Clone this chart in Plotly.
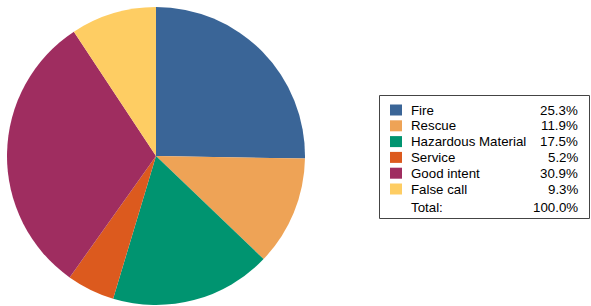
import plotly.graph_objects as go

categories = ["Fire", "Rescue", "Hazardous Material", "Service", "Good intent", "False call"]
values = [25.3, 11.9, 17.5, 5.2, 30.9, 9.3]
total_label = "100.0%"
colors = ["#3A6597", "#EEA356", "#009470", "#DC5A1E", "#9F2D60", "#FECD63"]

W, H = 591, 306

fig = go.Figure()
fig.add_trace(go.Pie(
    labels=categories, values=values, sort=False, direction="clockwise", rotation=0,
    marker=dict(colors=colors, line=dict(width=0)),
    textinfo="none", showlegend=False,
    domain=dict(x=[7 / W, 305 / W], y=[1 / H, 299 / H]),
))

def px(x):
    return x / W

def py(y):
    return 1 - y / H

shapes = [dict(type="rect", xref="paper", yref="paper",
               x0=px(379.5), x1=px(589.5), y0=py(218.5), y1=py(95.5),
               line=dict(color="#444444", width=1), fillcolor="rgba(0,0,0,0)")]
annotations = []
row_y = [110, 125.8, 141.6, 157.4, 173.2, 189]
font = dict(family="Liberation Sans, Arial, sans-serif", size=13.3, color="#000000")
for i, (c, v) in enumerate(zip(categories, values)):
    y = row_y[i]
    shapes.append(dict(type="rect", xref="paper", yref="paper",
                       x0=px(390), x1=px(402), y0=py(y + 5.5), y1=py(y - 5.5),
                       line=dict(width=0), fillcolor=colors[i]))
    annotations.append(dict(x=px(409), y=py(y), xref="paper", yref="paper", text=c,
                            showarrow=False, xanchor="left", yanchor="middle", font=font))
    annotations.append(dict(x=px(580), y=py(y), xref="paper", yref="paper", text=f"{v:.1f}%",
                            showarrow=False, xanchor="right", yanchor="middle", font=font))
annotations.append(dict(x=px(409), y=py(207), xref="paper", yref="paper", text="Total:",
                        showarrow=False, xanchor="left", yanchor="middle", font=font))
annotations.append(dict(x=px(580), y=py(207), xref="paper", yref="paper", text=total_label,
                        showarrow=False, xanchor="right", yanchor="middle", font=font))

fig.update_layout(width=W, height=H, margin=dict(l=0, r=0, t=0, b=0),
                  paper_bgcolor="white", plot_bgcolor="white",
                  shapes=shapes, annotations=annotations)
fig.write_html("out.html", config={"displayModeBar": False})

with open("out.html", "r", encoding="utf-8") as f:
    html = f.read()
html = html.replace("<head>", "<head><style>html,body{margin:0;padding:0;overflow:hidden;}</style>", 1)
with open("out.html", "w", encoding="utf-8") as f:
    f.write(html)
